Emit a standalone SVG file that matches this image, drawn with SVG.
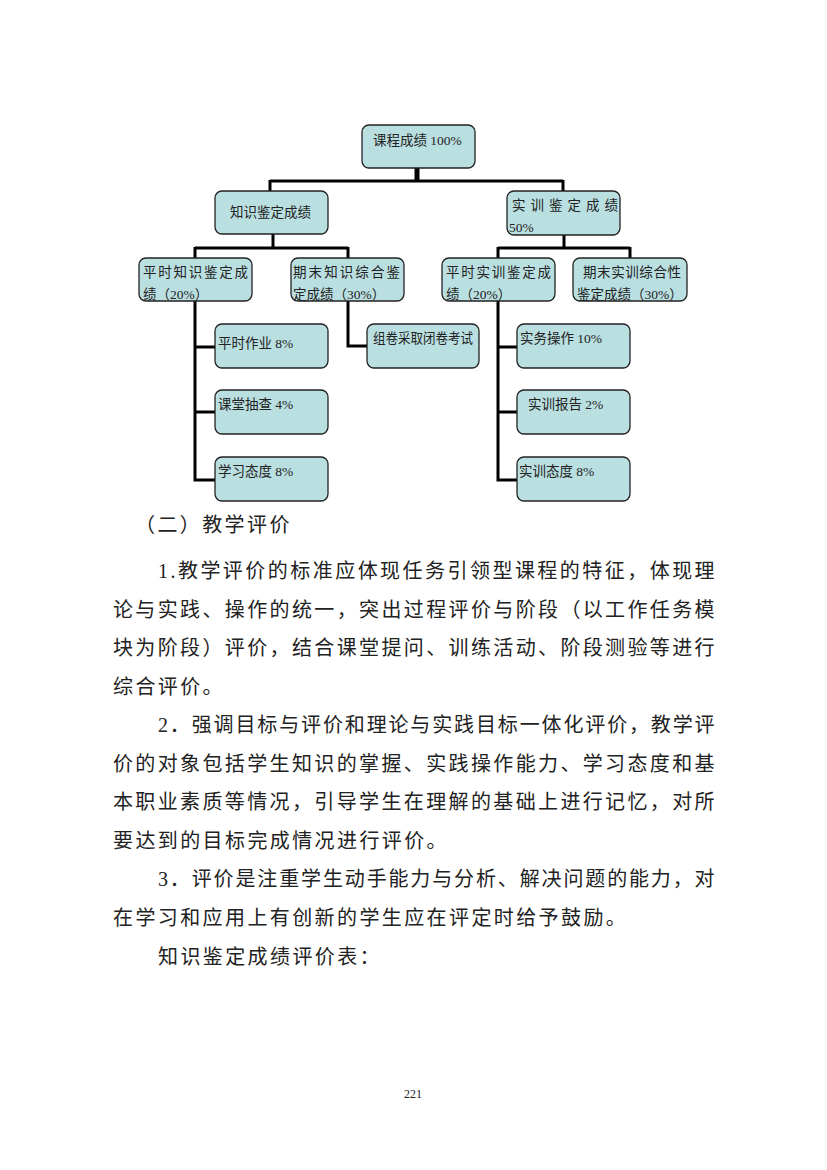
<svg xmlns="http://www.w3.org/2000/svg" width="827" height="1170" viewBox="0 0 827 1170">
<style>
.box{fill:#badfe1;stroke:#222;stroke-width:1.3}
.bt{font-family:"Liberation Serif","Noto Sans CJK SC",serif;font-size:13.5px;fill:#222}
.body{font-family:"Liberation Serif","Noto Sans CJK SC",serif;font-size:20px;fill:#222;letter-spacing:2.4px}
.ln{stroke:#000;stroke-width:3;fill:none}
</style>
<rect width="827" height="1170" fill="#fff"/>
<g id="connectors">
<line class="ln" x1="417" y1="168" x2="417" y2="181" style="stroke-width:5"/>
<line class="ln" x1="270" y1="181" x2="563" y2="181"/>
<line class="ln" x1="270" y1="180" x2="270" y2="191"/>
<line class="ln" x1="563" y1="180" x2="563" y2="191"/>
<line class="ln" x1="273" y1="234" x2="273" y2="248"/>
<line class="ln" x1="195" y1="248" x2="348" y2="248"/>
<line class="ln" x1="195" y1="247" x2="195" y2="258"/>
<line class="ln" x1="348" y1="247" x2="348" y2="258"/>
<line class="ln" x1="564" y1="235" x2="564" y2="248"/>
<line class="ln" x1="498" y1="248" x2="630" y2="248"/>
<line class="ln" x1="498" y1="247" x2="498" y2="258"/>
<line class="ln" x1="630" y1="247" x2="630" y2="258"/>
<polyline class="ln" points="195,301 195,480 215,480"/>
<line class="ln" x1="195" y1="347" x2="215" y2="347"/>
<line class="ln" x1="195" y1="412" x2="215" y2="412"/>
<polyline class="ln" points="348,301 348,346 367,346"/>
<polyline class="ln" points="498,301 498,480 517,480"/>
<line class="ln" x1="498" y1="347" x2="517" y2="347"/>
<line class="ln" x1="498" y1="412" x2="517" y2="412"/>
</g>
<g id="root"><rect class="box" x="362" y="125" width="113" height="43" rx="7"/><text class="bt" x="373" y="145">课程成绩 100%</text></g>
<g id="knowledge"><rect class="box" x="215" y="191" width="113" height="43" rx="7"/><text class="bt" x="230" y="217">知识鉴定成绩</text></g>
<g id="practice"><rect class="box" x="507" y="191" width="113" height="44" rx="7"/><text class="bt" x="512" y="210" textLength="106" lengthAdjust="spacing">实训鉴定成绩</text><text class="bt" x="509" y="232">50%</text></g>
<g id="k-daily"><rect class="box" x="139" y="258" width="113" height="43" rx="7"/><text class="bt" x="143" y="277" textLength="105" lengthAdjust="spacing">平时知识鉴定成</text><text class="bt" x="143" y="299">绩（20%）</text></g>
<g id="k-final"><rect class="box" x="291" y="258" width="113" height="43" rx="7"/><text class="bt" x="293" y="277" textLength="107" lengthAdjust="spacing">期末知识综合鉴</text><text class="bt" x="293" y="299">定成绩（30%）</text></g>
<g id="p-daily"><rect class="box" x="442" y="258" width="113" height="43" rx="7"/><text class="bt" x="446" y="277" textLength="105" lengthAdjust="spacing">平时实训鉴定成</text><text class="bt" x="446" y="299">绩（20%）</text></g>
<g id="p-final"><rect class="box" x="573" y="258" width="114" height="43" rx="7"/><text class="bt" x="583" y="277" textLength="98" lengthAdjust="spacing">期末实训综合性</text><text class="bt" x="577" y="299">鉴定成绩（30%）</text></g>
<g id="homework"><rect class="box" x="215" y="324" width="113" height="44" rx="7"/><text class="bt" x="218" y="348">平时作业 8%</text></g>
<g id="check"><rect class="box" x="215" y="390" width="113" height="44" rx="7"/><text class="bt" x="218" y="409">课堂抽查 4%</text></g>
<g id="attitude"><rect class="box" x="215" y="457" width="113" height="44" rx="7"/><text class="bt" x="218" y="476">学习态度 8%</text></g>
<g id="exam"><rect class="box" x="367" y="324" width="112" height="44" rx="7"/><text class="bt" x="373" y="343" textLength="100" lengthAdjust="spacingAndGlyphs">组卷采取闭卷考试</text></g>
<g id="operation"><rect class="box" x="517" y="324" width="113" height="44" rx="7"/><text class="bt" x="520" y="343">实务操作 10%</text></g>
<g id="report"><rect class="box" x="517" y="390" width="113" height="44" rx="7"/><text class="bt" x="528" y="409">实训报告 2%</text></g>
<g id="p-attitude"><rect class="box" x="517" y="457" width="113" height="44" rx="7"/><text class="bt" x="519" y="476">实训态度 8%</text></g>
<g id="body">
<text class="body" x="135" y="532">（二）教学评价</text>
<text class="body" x="158" y="578" textLength="559" lengthAdjust="spacing">1.教学评价的标准应体现任务引领型课程的特征，体现理</text>
<text class="body" x="113" y="617" textLength="604" lengthAdjust="spacing">论与实践、操作的统一，突出过程评价与阶段（以工作任务模</text>
<text class="body" x="113" y="655" textLength="604" lengthAdjust="spacing">块为阶段）评价，结合课堂提问、训练活动、阶段测验等进行</text>
<text class="body" x="113" y="694">综合评价。</text>
<text class="body" x="158" y="732" textLength="559" lengthAdjust="spacing">2．强调目标与评价和理论与实践目标一体化评价，教学评</text>
<text class="body" x="113" y="771" textLength="604" lengthAdjust="spacing">价的对象包括学生知识的掌握、实践操作能力、学习态度和基</text>
<text class="body" x="113" y="809" textLength="604" lengthAdjust="spacing">本职业素质等情况，引导学生在理解的基础上进行记忆，对所</text>
<text class="body" x="113" y="848">要达到的目标完成情况进行评价。</text>
<text class="body" x="158" y="886" textLength="559" lengthAdjust="spacing">3．评价是注重学生动手能力与分析、解决问题的能力，对</text>
<text class="body" x="113" y="925">在学习和应用上有创新的学生应在评定时给予鼓励。</text>
<text class="body" x="158" y="964">知识鉴定成绩评价表：</text>
<text x="413" y="1098" text-anchor="middle" style="font-family:'Liberation Serif',serif;font-size:12px;fill:#222">221</text>
</g>
</svg>
